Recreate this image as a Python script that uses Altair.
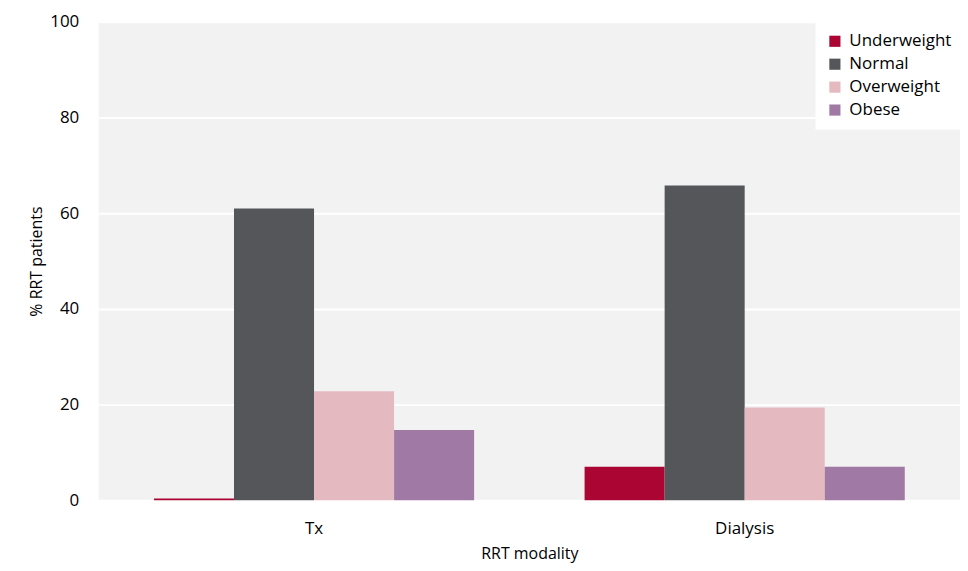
import altair as alt
import pandas as pd

modalities = ["Tx", "Dialysis"]
categories = ["Underweight", "Normal", "Overweight", "Obese"]
tx_values = [0.4, 61.0, 22.8, 14.7]
dialysis_values = [7.0, 65.8, 19.4, 7.0]
colors = ["#ab0534", "#55565a", "#e4b9c0", "#a07aa5"]
y_ticks = [0, 20, 40, 60, 80, 100]

rows = []
for m, vals in zip(modalities, [tx_values, dialysis_values]):
    for c, v in zip(categories, vals):
        rows.append({"modality": m, "bmi": c, "pct": v})
df = pd.DataFrame(rows)

FONT = "Open Sans"

chart = alt.Chart(df).mark_bar().encode(
    x=alt.X("modality:N", sort=modalities, title="RRT modality",
            scale=alt.Scale(paddingInner=0, paddingOuter=0),
            axis=alt.Axis(labelAngle=0, ticks=False, domain=False, grid=False,
                          labelFontSize=17, titleFontSize=16, labelPadding=20,
                          titlePadding=9, labelFont=FONT, titleFont=FONT,
                          labelColor="#000", titleColor="#000", titleFontWeight="normal")),
    xOffset=alt.XOffset("bmi:N", sort=categories,
                        scale=alt.Scale(paddingInner=0, paddingOuter=0.69)),
    y=alt.Y("pct:Q", title="% RRT patients",
            scale=alt.Scale(domain=[0, 100], nice=False),
            axis=alt.Axis(values=y_ticks, ticks=False, domain=False, gridColor="white",
                          gridWidth=2, labelFontSize=17, titleFontSize=16, labelPadding=20,
                          titlePadding=5, labelFont=FONT, titleFont=FONT,
                          labelColor="#000", titleColor="#000", titleFontWeight="normal")),
    color=alt.Color("bmi:N", sort=categories,
                    scale=alt.Scale(domain=categories, range=colors),
                    legend=alt.Legend(title=None, orient="none", legendX=719, legendY=0,
                                      fillColor="white", padding=11, symbolType="square",
                                      symbolSize=125, symbolStrokeWidth=0, labelFontSize=17,
                                      labelFont=FONT, labelColor="#000", rowPadding=5,
                                      labelOffset=6, labelLimit=200, symbolOpacity=1)),
).properties(
    width=955, height=557, background="white",
    autosize=alt.AutoSizeParams(type="fit", contains="padding"),
    padding={"left": 20, "top": 4, "right": 0, "bottom": 3},
).configure_view(
    fill="#f2f2f2", stroke=None
)

chart.save("out.html", embed_options={"renderer": "svg", "actions": False})
